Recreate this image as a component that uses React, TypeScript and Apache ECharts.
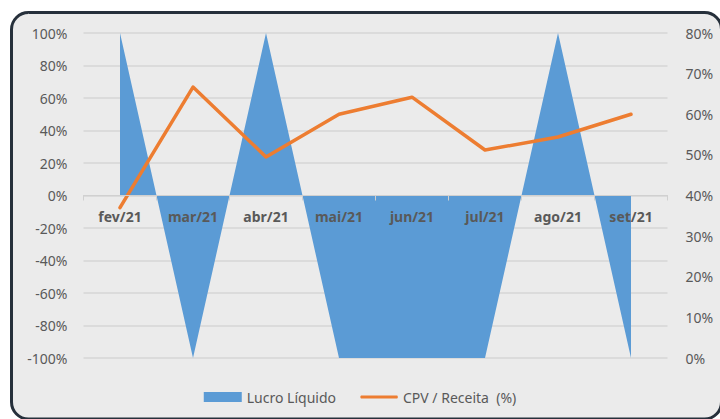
import React, { useEffect, useRef } from "react";
import * as echarts from "echarts";

const categories = ["fev/21", "mar/21", "abr/21", "mai/21", "jun/21", "jul/21", "ago/21", "set/21"];
const lucroLiquido = [100, -100, 100, -100, -100, -100, 100, -100];
const cpvReceita = [37, 66.7, 49.5, 60, 64.2, 51.2, 54.4, 60];
const leftTicks = { min: -100, max: 100, interval: 20 };
const rightTicks = { min: 0, max: 80, interval: 10 };

const FONT = "Noto Sans";

export default function App() {
  const ref = useRef<HTMLDivElement>(null);
  useEffect(() => {
    if (!ref.current) return;
    const chart = echarts.init(ref.current, undefined, { renderer: "svg" });
    chart.setOption({
      animation: false,
      textStyle: { fontFamily: FONT },
      graphic: [
        {
          type: "rect",
          z: -10,
          silent: true,
          shape: { x: 11.5, y: 12.5, width: 710, height: 406.5, r: 17 },
          style: { fill: "#ebebeb", stroke: "#26303b", lineWidth: 3 },
        },
      ],
      grid: { left: 83.5, right: 52.5, top: 33, bottom: 61, containLabel: false },
      legend: {
        top: 385,
        left: "center",
        itemGap: 24,
        itemWidth: 38,
        itemHeight: 10,
        textStyle: { color: "#595959", fontSize: 14, fontFamily: FONT },
        data: [
          { name: "Lucro Líquido", icon: "rect" },
          { name: "CPV / Receita  (%)", icon: "path://M0,0 M0,10 M1,3.5 L39,3.5 Q40.5,5 39,6.5 L1,6.5 Q-0.5,5 1,3.5 Z" },
        ],
      },
      xAxis: {
        type: "category",
        data: categories,
        z: 10,
        boundaryGap: true,
        position: "bottom",
        offset: -162.5,
        axisLine: { onZero: false, lineStyle: { color: "#d0d0d0", width: 1 } },
        axisTick: { show: true, length: 5, lineStyle: { color: "#d0d0d0" } },
        axisLabel: { color: "#595959", fontWeight: "bold", fontSize: 14, margin: 14, fontFamily: FONT },
        splitLine: { show: false },
      },
      yAxis: [
        {
          type: "value",
          min: leftTicks.min,
          max: leftTicks.max,
          interval: leftTicks.interval,
          axisLine: { show: false },
          axisTick: { show: false },
          axisLabel: { color: "#595959", fontSize: 14, margin: 16, formatter: (v: number) => `${Math.round(v)}%`, fontFamily: FONT },
          splitLine: { lineStyle: { color: "#d6d6d6", width: 1.5 } },
        },
        {
          type: "value",
          min: rightTicks.min,
          max: rightTicks.max,
          interval: rightTicks.interval,
          axisLine: { show: false },
          axisTick: { show: false },
          axisLabel: { color: "#595959", fontSize: 14, margin: 18, formatter: (v: number) => `${Math.round(v)}%`, fontFamily: FONT },
          splitLine: { show: false },
        },
      ],
      series: [
        {
          name: "Lucro Líquido",
          type: "line",
          data: lucroLiquido,
          yAxisIndex: 0,
          symbol: "none",
          itemStyle: { color: "#5b9bd5" },
          lineStyle: { width: 0, color: "#5b9bd5" },
          areaStyle: { color: "#5b9bd5", opacity: 1 },
          z: 2,
        },
        {
          name: "CPV / Receita  (%)",
          type: "line",
          data: cpvReceita,
          yAxisIndex: 1,
          symbol: "none",
          itemStyle: { color: "#ed7d31" },
          lineStyle: { width: 3.5, color: "#ed7d31", cap: "round", join: "round" },
          z: 5,
        },
      ],
    });
    return () => chart.dispose();
  }, []);
  return (
    <div style={{ position: "fixed", left: 0, top: 0, width: 720, height: 419, background: "#fff", overflow: "hidden" }}>
      <div ref={ref} style={{ width: 720, height: 419 }} />
    </div>
  );
}
